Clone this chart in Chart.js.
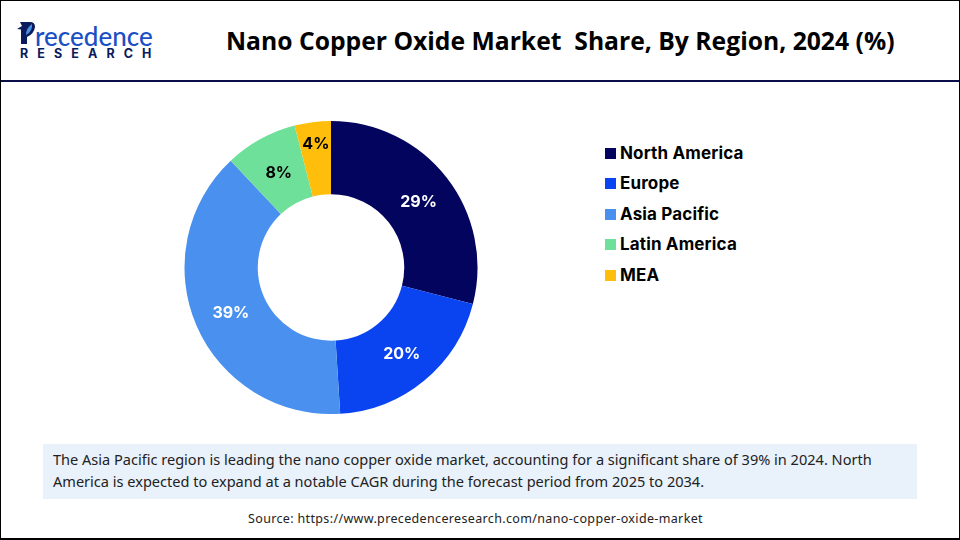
<!DOCTYPE html>
<html>
<head>
<meta charset="utf-8">
<style>
  html, body { margin: 0; padding: 0; background: #fff; }
  #page { position: relative; width: 960px; height: 540px; overflow: hidden; font-family: Inter, sans-serif; color: #000; }
  #frame { position: absolute; left: 0; top: 0; width: 958px; height: 537px; border: 1px solid #000; border-bottom-width: 2px; }
  #rule { position: absolute; left: 1px; top: 80px; width: 958px; height: 2px; background: #0a0f4a; }
  #logo-top { position: absolute; left: 35px; top: 25px; font: 500 26px/22px Lato, sans-serif; color: #1b4fc4; white-space: nowrap; }
  #logo-mark { position: absolute; left: 17px; top: 21px; }
  #logo-sub { position: absolute; left: 20px; top: 48px; font: 700 12.5px/12px Inter, sans-serif; color: #0a1a5c; letter-spacing: 9.1px; white-space: nowrap; }
  #title { position: absolute; left: 226px; top: 24px; font: 700 24.7px/34px "Open Sans", sans-serif; white-space: pre; }
  #chart-box { position: absolute; left: 184px; top: 121px; width: 294px; height: 293px; }
  #legend { position: absolute; left: 605px; top: 138px; }
  .row { position: absolute; left: 0; height: 30px; white-space: nowrap; font: 700 17px/30px Inter, sans-serif; letter-spacing: 0.15px; }
  .row i { position: absolute; left: 0; top: 10px; width: 11px; height: 11px; }
  .row span { position: absolute; left: 15px; }
  #note { position: absolute; left: 43px; top: 444px; width: 874px; height: 55px; background: #e9f1fa; }
  #note p { margin: 0; position: absolute; left: 10px; top: 4px; font: 400 14.55px/22px "Noto Sans", sans-serif; color: #222; white-space: nowrap; }
  #source { position: absolute; left: 248px; top: 510px; font: 400 12.5px/18px "Noto Sans", sans-serif; letter-spacing: 0.35px; color: #222; white-space: nowrap; }
</style>
</head>
<body>
<div id="page">
  <div id="frame"></div>
  <div id="rule"></div>
  <svg id="logo-mark" width="18" height="24" viewBox="0 0 18 24">
    <path d="M0 8 L4 8.5 L4 23 L10 23 L10 16 Q17 13 18 6 Q18 1 13 1 L3 1 L5 5 Z" fill="#0a1a5c"/>
    <path d="M9 14 Q9 7 15 3 Q16 10 9 14 Z" fill="#4a90e2"/>
  </svg>
  <div id="logo-top">recedence</div>
  <div id="logo-sub">RESEARCH</div>
  <div id="title">Nano Copper Oxide Market  Share, By Region, 2024 (%)</div>
  <div id="chart-box"><canvas id="shareChart"></canvas></div>
  <div id="legend"></div>
  <div id="note"><p>The Asia Pacific region is leading the nano copper oxide market, accounting for a significant share of 39% in 2024. North<br>America is expected to expand at a notable CAGR during the forecast period from 2025 to 2034.</p></div>
  <div id="source">Source: https://www.precedenceresearch.com/nano-copper-oxide-market</div>
</div>

<script src="https://cdn.jsdelivr.net/npm/chart.js@4/dist/chart.umd.min.js"></script>
<script>
const regions = ['North America', 'Europe', 'Asia Pacific', 'Latin America', 'MEA'];
const shares = [29, 20, 39, 8, 4];
const sliceColors = ['#03045e', '#0a44f0', '#4a90ee', '#6fe09a', '#ffbe0b'];
const labelColors = ['#fff', '#fff', '#fff', '#000', '#000'];

// 凡例はHTMLで作る
const legendBox = document.getElementById('legend');
regions.forEach(function(name, i) {
    const row = document.createElement('div');
    row.className = 'row';
    row.style.top = (i * 30.4) + 'px';
    row.innerHTML = '<i style="background:' + sliceColors[i] + '"></i><span>' + name + '</span>';
    legendBox.appendChild(row);
});

// スライスの上に%ラベルを描く（細いスライスだけ外側に寄せる）
const sliceLabels = {
    id: 'sliceLabels',
    afterDatasetsDraw(chart) {
        const ctx = chart.ctx;
        chart.getDatasetMeta(0).data.forEach(function(arc, i) {
            const mid = (arc.startAngle + arc.endAngle) / 2;
            const r = shares[i] < 5 ? arc.outerRadius * 0.86 : (arc.innerRadius + arc.outerRadius) / 2;
            ctx.save();
            ctx.font = '700 16px Inter, sans-serif';
            ctx.fillStyle = labelColors[i];
            ctx.textAlign = 'center';
            ctx.textBaseline = 'middle';
            ctx.fillText(shares[i] + '%', arc.x + Math.cos(mid) * r + 0.7, arc.y + Math.sin(mid) * r + 2);
            ctx.restore();
        });
    }
};

new Chart(document.getElementById('shareChart'), {
    type: 'doughnut',
    data: {
        labels: regions,
        datasets: [{
            data: shares,
            backgroundColor: sliceColors,
            borderWidth: 0
        }]
    },
    options: {
        responsive: true,
        maintainAspectRatio: false,
        animation: false,
        cutout: '50%',
        plugins: {
            legend: { display: false },
            tooltip: { enabled: false }
        }
    },
    plugins: [sliceLabels]
});
</script>
</body>
</html>
